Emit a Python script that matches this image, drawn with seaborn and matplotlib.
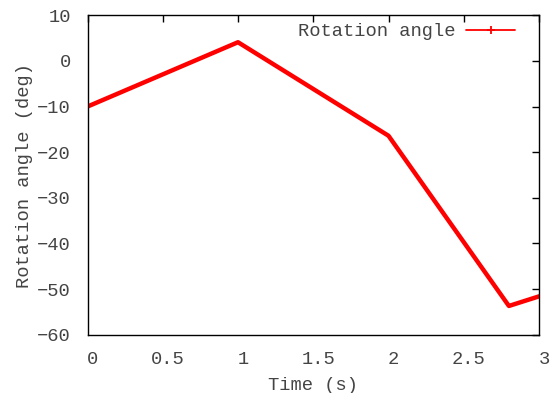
import matplotlib
matplotlib.use("Agg")
import matplotlib.pyplot as plt
import matplotlib.transforms as mtransforms
from matplotlib.lines import Line2D
import seaborn as sns
import pandas as pd

# Rotation angle over time
time_s = [0.0, 1.0, 2.0, 2.8, 3.2]
angle_deg = [-10.0, 4.1, -16.4, -53.7, -49.5]

x_ticks = [0, 0.5, 1, 1.5, 2, 2.5, 3]
x_tick_labels = ["0", "0.5", "1", "1.5", "2", "2.5", "3"]
y_ticks = [-60, -50, -40, -30, -20, -10, 0, 10]

df = pd.DataFrame({"time": time_s, "angle": angle_deg})

sns.set_theme(style="white")
plt.rcParams["font.family"] = ["Liberation Mono", "DejaVu Sans Mono"]
plt.rcParams["font.size"] = 13.5
text_color = "#444444"

fig, ax = plt.subplots(figsize=(5.59, 3.93), dpi=100)
fig.subplots_adjust(left=87.5 / 559, right=539 / 559,
                    top=1 - 15.3 / 393, bottom=1 - 334.7 / 393)

sns.lineplot(data=df, x="time", y="angle", ax=ax, color="#ff0000",
             linewidth=3.2, sort=False, legend=False)

ax.set_xlim(0, 3)
ax.set_ylim(-60, 10)
ax.set_xticks(x_ticks)
ax.set_xticklabels(x_tick_labels)
ax.set_yticks(y_ticks)

for side in ["left", "right", "top", "bottom"]:
    ax.spines[side].set_visible(True)
    ax.spines[side].set_color("black")
    ax.spines[side].set_linewidth(1.0)

ax.tick_params(axis="both", direction="in", length=5, width=1, color="black",
               top=True, right=True, labelsize=13.5, labelcolor=text_color)
ax.tick_params(axis="x", pad=12)
ax.tick_params(axis="y", pad=12)

# nudge x tick labels slightly to the right
shift = mtransforms.ScaledTranslation(5 / 100, 0, fig.dpi_scale_trans)
for lbl in ax.get_xticklabels():
    lbl.set_transform(lbl.get_transform() + shift)

ax.set_xlabel("Time (s)", fontsize=13.5, color=text_color, labelpad=6)
ax.set_ylabel("Rotation angle (deg)", fontsize=13.5, color=text_color, labelpad=3)

handle = Line2D([], [], color="#ff0000", linewidth=1.3, marker="+",
                markersize=6, markeredgewidth=1.3)
leg = ax.legend(handles=[handle], labels=["Rotation angle"], loc="upper right",
                frameon=False, markerfirst=False, fontsize=13.5,
                handlelength=2.6, handletextpad=0.6,
                borderaxespad=0.2, bbox_to_anchor=(0.972, 1.01))
for t in leg.get_texts():
    t.set_color(text_color)

fig.savefig("out.png", dpi=100)
